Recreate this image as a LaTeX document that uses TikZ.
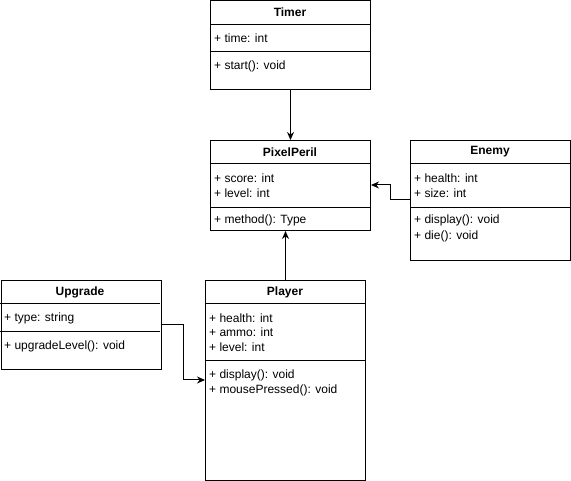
\documentclass[tikz,border=0pt]{standalone}
\usepackage{fontspec}
\setmainfont{Liberation Sans}
\usetikzlibrary{arrows.meta}
\tikzset{
  box/.style={draw, line width=1pt, anchor=north west, inner sep=0pt, minimum width=160pt},
  title/.style={font=\fontsize{12}{14}\selectfont\bfseries, inner sep=0pt},
  member/.style={anchor=west, inner sep=0pt},
  sep/.style={line width=1pt},
  link/.style={line width=1pt, -{Stealth[length=8pt,width=7pt]}}
}

\begin{document}
\begin{tikzpicture}[x=1pt, y=-1pt, font=\fontsize{12}{14}\selectfont]
		\useasboundingbox (0,0) rectangle (571,481);
		% Timer
		\node[box, minimum height=89pt] (timer) at (210,0.5) {};
		\node[title] (timerT) at (290,12.5) {Timer};
		\draw[sep] (210,25) -- (370,25);
		\draw[sep] (210,52) -- (370,52);
		\node[member] (timer1) at (214,38) {+ time: int};
		\node[member] (timer2) at (214,66) {+ start(): void};
		
		% PixelPeril
		\node[box, minimum height=90pt] (pixel) at (210,140) {};
		\node[title] (pixelT) at (290,152) {PixelPeril};
		\draw[sep] (210,164) -- (370,164);
		\draw[sep] (210,208) -- (370,208);
		\node[member] (pixel1) at (214,178) {+ score: int};
		\node[member] (pixel2) at (214,193) {+ level: int};
		\node[member] (pixel3) at (214,220) {+ method(): Type};
		
		% Enemy
		\node[box, minimum height=120pt] (enemy) at (410,140) {};
		\node[title] (enemyT) at (490,152) {Enemy};
		\draw[sep] (410,164) -- (570,164);
		\draw[sep] (410,208) -- (570,208);
		\node[member] (enemy1) at (414,178) {+ health: int};
		\node[member] (enemy2) at (414,193) {+ size: int};
		\node[member] (enemy3) at (414,220) {+ display(): void};
		\node[member] (enemy4) at (414,236) {+ die(): void};
		
		% Upgrade
		\node[box, minimum height=89pt] (upgrade) at (0.5,280) {};
		\node[title] (upgradeT) at (80,292) {Upgrade};
		\draw[sep] (0,304) -- (160,304);
		\draw[sep] (0,332) -- (160,332);
		\node[member] (upgrade1) at (4,318) {+ type: string};
		\node[member] (upgrade2) at (4,346) {+ upgradeLevel(): void};
		
		% Player
		\node[box, minimum height=200pt] (player) at (205,280) {};
		\node[title] (playerT) at (285,292) {Player};
		\draw[sep] (205,304) -- (365,304);
		\draw[sep] (205,361) -- (365,361);
		\node[member] (player1) at (209,318) {+ health: int};
		\node[member] (player2) at (209,332) {+ ammo: int};
		\node[member] (player3) at (209,347) {+ level: int};
		\node[member] (player4) at (209,375) {+ display(): void};
		\node[member] (player5) at (209,390) {+ mousePressed(): void};
		
		% links
		\draw[link] (timer.south) -- (pixel.north);
		\draw[link] (player.north) -- (player.north |- pixel.south);
		\draw[link] ([yshift=-60pt]enemy.north west) -- ++(-20,0) |- ([yshift=-45pt]pixel.north east);
		\draw[link] ([yshift=-45pt]upgrade.north east) -- ++(22,0) |- ([yshift=-100pt]player.north west);
\end{tikzpicture}
\end{document}
